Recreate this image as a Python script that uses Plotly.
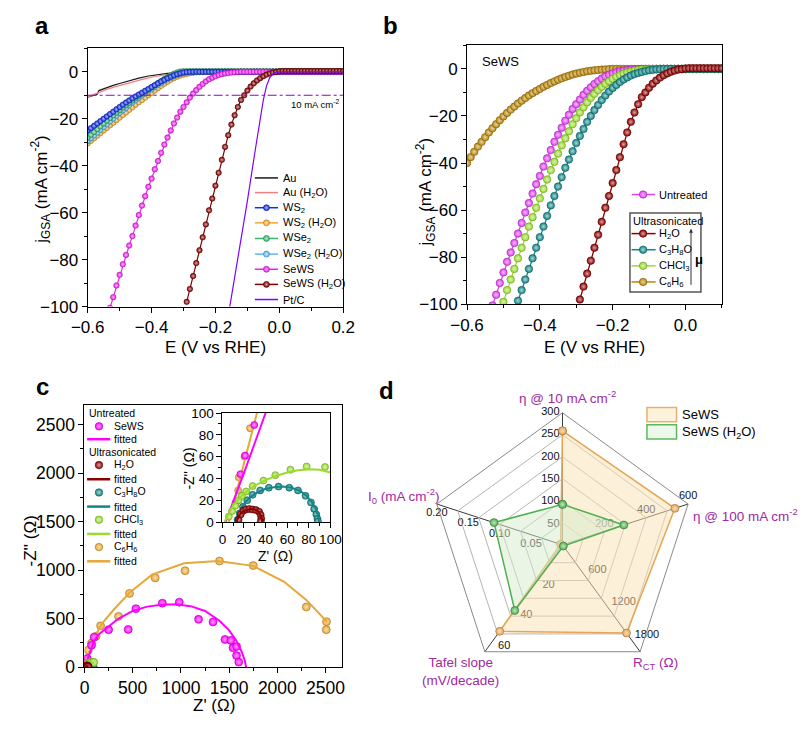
import math
import plotly.graph_objects as go

W, H = 811, 730
FONT = "Liberation Sans, Arial, Helvetica, sans-serif"

# ================= Panel a data (LSV, j_GSA vs E) =================
E_a = [-0.60, -0.59, -0.58, -0.57, -0.56, -0.55, -0.54, -0.53, -0.52, -0.51,
       -0.50, -0.49, -0.48, -0.47, -0.46, -0.45, -0.44, -0.43, -0.42, -0.41,
       -0.40, -0.39, -0.38, -0.37, -0.36, -0.35, -0.34, -0.33, -0.32, -0.31,
       -0.30, -0.29, -0.28, -0.27, -0.26, -0.25, -0.24, -0.23, -0.22, -0.21,
       -0.20, -0.19, -0.18, -0.17, -0.16, -0.15, -0.14, -0.13, -0.12, -0.11,
       -0.10, -0.09, -0.08, -0.07, -0.06, -0.05, -0.04, -0.03, -0.02, -0.01,
       0.00, 0.01, 0.02, 0.03, 0.04, 0.05, 0.06, 0.07, 0.08, 0.09,
       0.10, 0.11, 0.12, 0.13, 0.14, 0.15, 0.16, 0.17, 0.18, 0.19, 0.20]

E_Au = [-0.60, -0.58, -0.57, -0.565, -0.55, -0.52, -0.50, -0.47, -0.44, -0.41,
        -0.38, -0.35, -0.30, -0.25, -0.20, 0.00, 0.20]
j_Au = [-10.8, -10.0, -9.6, -8.0, -7.2, -5.8, -5.0, -3.8, -2.7, -1.8,
        -1.2, -0.7, -0.3, -0.1, 0.0, -0.2, -0.3]
E_AuW = [-0.60, -0.57, -0.54, -0.51, -0.48, -0.45, -0.42, -0.39, -0.36, -0.33,
         -0.30, -0.25, -0.20, 0.00, 0.20]
j_AuW = [-10.7, -9.0, -7.5, -6.2, -5.0, -3.9, -2.9, -2.0, -1.3, -0.8,
         -0.4, -0.15, 0.0, 0.0, 0.0]
E_Pt = [-0.16, -0.13, -0.10, -0.075, -0.06, -0.05, -0.04, -0.03, -0.02, -0.01, 0.00, 0.20]
j_Pt = [-104, -80, -55, -33, -20, -12, -6, -2.5, -0.8, -0.2, 0.0, 0.0]

j_WS2 = [-25.0, -24.0, -23.0, -22.0, -21.0, -20.0, -19.0, -18.0, -17.0, -16.0,
         -15.0, -14.0, -13.1, -12.2, -11.3, -10.5, -9.7, -8.9, -8.1, -7.3,
         -6.5, -5.7, -4.9, -4.1, -3.4, -2.7, -2.1, -1.5, -1.0, -0.6,
         -0.3, -0.1, 0, 0, 0, 0, 0, 0, 0, 0,
         0, 0, 0, 0, 0, 0, 0, 0, 0, 0,
         0, 0, 0, 0, 0, 0, 0, 0, 0, 0,
         0, 0, 0, 0, 0, 0, 0, 0, 0, 0,
         0, 0, 0, 0, 0, 0, 0, 0, 0, 0, 0]
j_WSe2 = [-28.0, -26.8, -25.6, -24.4, -23.2, -22.0, -20.8, -19.6, -18.5, -17.4,
          -16.3, -15.2, -14.2, -13.2, -12.2, -11.2, -10.3, -9.4, -8.5, -7.6,
          -6.7, -5.8, -4.9, -4.0, -3.1, -2.3, -1.5, -0.8, -0.3, 0.1,
          0.2, 0.2, 0.2, 0.2, 0.2, 0.2, 0.2, 0.2, 0.2, 0.2,
          0.2, 0.2, 0.2, 0.2, 0.2, 0.2, 0.2, 0.2, 0.2, 0.2,
          0.2, 0.2, 0.2, 0.2, 0.2, 0.2, 0.2, 0.2, 0.2, 0.2,
          0.2, 0.2, 0.2, 0.2, 0.2, 0.2, 0.2, 0.2, 0.2, 0.2,
          0.2, 0.2, 0.2, 0.2, 0.2, 0.2, 0.2, 0.2, 0.2, 0.2, 0.2]
j_WSe2W = [-29.5, -28.3, -27.1, -25.9, -24.7, -23.5, -22.3, -21.1, -19.9, -18.7,
           -17.5, -16.4, -15.3, -14.2, -13.1, -12.1, -11.1, -10.1, -9.2, -8.3,
           -7.4, -6.5, -5.6, -4.8, -4.0, -3.2, -2.5, -1.9, -1.4, -0.9,
           -0.6, -0.35, -0.2, -0.1, 0, 0, 0, 0, 0, 0,
           0, 0, 0, 0, 0, 0, 0, 0, 0, 0,
           0, 0, 0, 0, 0, 0, 0, 0, 0, 0,
           0, 0, 0, 0, 0, 0, 0, 0, 0, 0,
           0, 0, 0, 0, 0, 0, 0, 0, 0, 0, 0]
j_WS2W = [-30.5, -29.4, -28.3, -27.2, -26.1, -25.0, -23.9, -22.8, -21.7, -20.6,
          -19.5, -18.4, -17.3, -16.2, -15.1, -14.0, -13.0, -12.0, -11.0, -10.0,
          -9.0, -8.0, -7.0, -6.0, -5.1, -4.2, -3.4, -2.7, -2.1, -1.6,
          -1.2, -0.9, -0.6, -0.4, -0.25, -0.15, -0.1, -0.05, 0, 0,
          0, 0, 0, 0, 0, 0, 0, 0, 0, 0,
          0, 0, 0, 0, 0, 0, 0, 0, 0, 0,
          0, 0, 0, 0, 0, 0, 0, 0, 0, 0,
          0, 0, 0, 0, 0, 0, 0, 0, 0, 0, 0]
# SeWS untreated (starts at -0.53 V) and SeWS (H2O) (starts at -0.29 V)
j_SeWS = [-100.5, -96, -91, -86.5, -82, -78, -74, -70, -65.5, -61,
          -57, -53, -49, -45.5, -41.5, -38, -34.5, -31, -28, -25,
          -22, -19.5, -17, -15, -13, -11, -9.3, -7.8, -6.4, -5.2,
          -4.1, -3.2, -2.5, -1.9, -1.4, -1.0, -0.7, -0.5, -0.3, -0.2,
          -0.1, 0, 0, 0, 0, 0, 0, 0, 0, 0,
          0, 0, 0, 0, 0, 0, 0, 0, 0, 0,
          0, 0, 0, 0, 0, 0, 0, 0, 0, 0,
          0, 0, 0, 0]
j_SeWSW = [-98, -92.5, -87, -81.5, -76, -70.5, -65, -59, -54, -48.5,
           -43, -37.5, -32, -27, -22.5, -18.5, -15, -12, -10, -8,
           -6.3, -4.9, -3.7, -2.7, -1.9, -1.2, -0.7, -0.3, -0.1,
           0.2, 0.3, 0.3, 0.3, 0.3, 0.3, 0.3, 0.3, 0.3, 0.3,
           0.3, 0.3, 0.3, 0.3, 0.3, 0.3, 0.3, 0.3, 0.3, 0.3, 0.3]
j_ref = -10

# ================= Panel b data =================
E_b = [-0.60, -0.59, -0.58, -0.57, -0.56, -0.55, -0.54, -0.53, -0.52, -0.51,
       -0.50, -0.49, -0.48, -0.47, -0.46, -0.45, -0.44, -0.43, -0.42, -0.41,
       -0.40, -0.39, -0.38, -0.37, -0.36, -0.35, -0.34, -0.33, -0.32, -0.31,
       -0.30, -0.29, -0.28, -0.27, -0.26, -0.25, -0.24, -0.23, -0.22, -0.21,
       -0.20, -0.19, -0.18, -0.17, -0.16, -0.15, -0.14, -0.13, -0.12, -0.11,
       -0.10, -0.09, -0.08, -0.07, -0.06, -0.05, -0.04, -0.03, -0.02, -0.01,
       0.00, 0.01, 0.02, 0.03, 0.04, 0.05, 0.06, 0.07, 0.08, 0.09, 0.10]
j_C6H6 = [-40.0, -37.5, -35.2, -33.0, -31.0, -29.0, -27.0, -25.2, -23.5, -21.8,
          -20.2, -18.7, -17.3, -16.0, -14.7, -13.5, -12.4, -11.3, -10.3, -9.4,
          -8.5, -7.6, -6.8, -6.0, -5.3, -4.6, -4.0, -3.4, -2.9, -2.4,
          -2.0, -1.6, -1.3, -1.0, -0.8, -0.6, -0.45, -0.3, -0.2, -0.1,
          0, 0, 0, 0, 0, 0, 0, 0, 0, 0,
          0, 0, 0, 0, 0, 0, 0, 0, 0, 0,
          0, 0, 0, 0, 0, 0, 0, 0, 0, 0, 0]
j_CHCl3 = [-99, -94, -89.5, -85, -80.5, -76, -71.5, -67, -63, -59,
           -55, -51, -47, -43, -39.5, -36, -32.5, -29.5, -26.5, -23.5,
           -21, -18.5, -16.3, -14.2, -12.3, -10.6, -9.0, -7.6, -6.3, -5.2,
           -4.2, -3.3, -2.6, -2.0, -1.5, -1.1, -0.8, -0.5, -0.3, -0.2,
           -0.1, 0, 0, 0, 0, 0, 0, 0, 0, 0,
           0, 0, 0, 0, 0, 0, 0, 0, 0, 0, 0]
j_C3H8O = [-98.5, -94, -89.5, -85, -80.5, -76, -71.5, -67, -62.5, -58,
           -54, -50, -46, -42, -38.5, -35, -31.5, -28.5, -25.5, -22.5,
           -20, -17.5, -15.3, -13.2, -11.3, -9.6, -8.1, -6.8, -5.6, -4.5,
           -3.6, -2.8, -2.2, -1.7, -1.3, -0.9, -0.6, -0.4, -0.2, -0.1,
           0, 0, 0, 0, 0, 0, 0, 0, 0, 0,
           0, 0, 0, 0, 0, 0, 0]

# ================= Panel c data (Nyquist) =================
Zr_SeWS = [12.2, 16.7, 21, 29.5, 73, 100, 250, 453, 533, 807, 983, 1183, 1333, 1457, 1517, 1540, 1577, 1577, 1600]
Zi_SeWS = [17.6, 43.9, 61, 89, 227, 310, 387, 390, 604, 661, 671, 494, 467, 287, 277, 200, 214, 120, 53]
Zr_SeWS_fit = [3, 20, 40, 70, 100, 150, 250, 350, 500, 650, 800, 950, 1100, 1250, 1400, 1500, 1570, 1630, 1665, 1675]
Zi_SeWS_fit = [0, 45, 100, 190, 270, 340, 420, 500, 580, 625, 645, 650, 630, 580, 480, 380, 280, 160, 60, 0]
Zr_C6H6 = [14.6, 15.2, 20.5, 25.6, 40, 73, 120, 167, 353, 467, 733, 1043, 1400, 1750, 2300, 2510, 2507]
Zi_C6H6 = [29, 41, 60, 86, 177, 250, 320, 427, 524, 761, 921, 995, 1095, 1048, 621, 470, 387]
Zr_C6H6_fit = [6, 32, 60, 100, 177, 300, 467, 700, 1033, 1383, 1750, 2067, 2300, 2517]
Zi_C6H6_fit = [0, 100, 190, 300, 444, 590, 768, 955, 1071, 1095, 1045, 884, 694, 467]
Zr_H2O = [15, 17, 19.5, 22, 25, 28, 31, 34, 35.5, 36, 35.5]
Zi_H2O = [2, 7, 10.5, 11.5, 12, 11.5, 11, 9.5, 6.5, 3, 0.5]
Zr_H2O_fit = [13, 15, 18, 22, 26, 30, 33, 35, 36.5, 37]
Zi_H2O_fit = [0, 5, 9, 11, 12, 11.5, 10, 7, 3, 0]
Zr_C3H8O = [14, 16, 19, 23, 28, 35, 43, 52, 62, 70, 77, 82, 85, 87, 88, 88.5]
Zi_C3H8O = [2, 8, 14, 20, 25, 29, 31.5, 32.5, 31.5, 29, 24, 18, 12, 7, 3, 0.5]
Zr_C3H8O_fit = [12, 14, 17, 21, 26, 32, 40, 48, 56, 64, 72, 78, 83, 86.5, 88.5, 89.5]
Zi_C3H8O_fit = [0, 6, 12, 18, 23, 27, 30.5, 32, 32.5, 31.5, 28.5, 24, 18, 12, 6, 0]
Zr_CHCl3 = [6, 9, 12, 15, 18, 22, 28, 38, 49, 63, 78, 95]
Zi_CHCl3 = [5, 10, 15, 20, 24, 28, 33, 38, 43, 48, 51, 50.5]
Zr_CHCl3_fit = [2, 6, 10, 15, 20, 25, 30, 40, 50, 60, 70, 80, 90, 100]
Zi_CHCl3_fit = [0, 8, 15, 21, 26, 30, 33.5, 38.5, 42.5, 45.5, 47.5, 48.5, 48, 45.5]

# ================= Panel d data (radar) =================
radar_axes = ["eta10", "eta100", "RCT", "Tafel", "I0"]
radar_max = [300, 600, 2000, 70, 0.2]
radar_SeWS = [259, 537, 1650, 56.6, 0.003]
radar_SeWSW = [92, 293, 22, 43, 0.109]
radar_ticks = [[50, 100, 150, 200, 250, 300], [200, 400, 600], [600, 1200, 1800], [20, 40, 60],
               [0.05, 0.10, 0.15, 0.20]]
radar_ticktext = [["50", "100", "150", "200", "250", "300"], ["200", "400", "600"],
                  ["600", "1200", "1800"], ["20", "40", "60"], ["0.05", "0.10", "0.15", "0.20"]]

# ================= colours =================
C = dict(Au="#1a1a1a", AuW="#F08080", WS2="#1530E0", WS2W="#F0A830", WSe2="#3CB371",
         WSe2W="#5CB8F0", SeWS="#F020F0", SeWSW="#800000", Pt="#8000FF",
         untr="#E040F0", H2O="#8B0000", C3H8O="#138585", CHCl3="#9ADB2E", C6H6="#B8860B",
         cC6H6="#E8A838", cSeWS="#FF00FF", dSeWS="#E6A555", dSeWSW="#4FB050",
         purple="#A02AA0", ref="#9400D3")


def mix(c, t):
    c = c.lstrip('#')
    r, g, b = int(c[0:2], 16), int(c[2:4], 16), int(c[4:6], 16)
    return 'rgb(%d,%d,%d)' % (r + (255 - r) * t, g + (255 - g) * t, b + (255 - b) * t)


def dark(c, t):
    c = c.lstrip('#')
    r, g, b = int(c[0:2], 16), int(c[2:4], 16), int(c[4:6], 16)
    return 'rgb(%d,%d,%d)' % (r * (1 - t), g * (1 - t), b * (1 - t))


def ball(c, size):
    return dict(color=c, size=size, line=dict(color=dark(c, 0.3), width=0.6),
                gradient=dict(type='radial', color=mix(c, 0.65)))


def seg(E, start, vals):
    i = E.index(start)
    n = min(len(vals), len(E) - i)
    return E[i:i + n], vals[:n]


fig = go.Figure()

# ---------------- Panel a traces ----------------
def add_a(x, y, color, marker=False, width=1.2, size=5.5):
    fig.add_trace(go.Scatter(x=x, y=y, mode='lines+markers' if marker else 'lines',
                             line=dict(color=color, width=width),
                             marker=ball(color, size) if marker else None,
                             xaxis='x', yaxis='y', hoverinfo='skip'))

add_a(E_Au, j_Au, C['Au'])
add_a(E_AuW, j_AuW, C['AuW'])
add_a(E_a, j_WS2W, C['WS2W'], True)
add_a(E_a, j_WSe2W, C['WSe2W'], True)
add_a(E_a, j_WSe2, C['WSe2'], True)
add_a(E_a, j_WS2, C['WS2'], True)
x, y = seg(E_a, -0.53, j_SeWS)
add_a(x, y, C['SeWS'], True)
x, y = seg(E_a, -0.29, j_SeWSW)
add_a(x, y, C['SeWSW'], True)
add_a(E_Pt, j_Pt, C['Pt'])
fig.add_trace(go.Scatter(x=[E_a[0], E_a[-1]], y=[j_ref, j_ref], mode='lines',
                         line=dict(color=C['ref'], width=1, dash='dashdot'),
                         xaxis='x', yaxis='y', hoverinfo='skip'))

# ---------------- Panel b traces ----------------
def add_b(x, y, color):
    fig.add_trace(go.Scatter(x=x, y=y, mode='lines+markers', line=dict(color=color, width=1.3),
                             marker=ball(color, 7.5), xaxis='x2', yaxis='y2', hoverinfo='skip'))

add_b(E_b, j_C6H6, C['C6H6'])
x, y = seg(E_b, -0.53, j_SeWS)
add_b(x, y, C['untr'])
x, y = seg(E_b, -0.50, j_CHCl3)
add_b(x, y, C['CHCl3'])
x, y = seg(E_b, -0.46, j_C3H8O)
add_b(x, y, C['C3H8O'])
x, y = seg(E_b, -0.29, j_SeWSW)
add_b(x, y, C['H2O'])

# ---------------- Panel c traces (main + inset) ----------------
nyq = [(Zr_C6H6, Zi_C6H6, Zr_C6H6_fit, Zi_C6H6_fit, C['cC6H6']),
       (Zr_SeWS, Zi_SeWS, Zr_SeWS_fit, Zi_SeWS_fit, C['cSeWS']),
       (Zr_C3H8O, Zi_C3H8O, Zr_C3H8O_fit, Zi_C3H8O_fit, C['C3H8O']),
       (Zr_CHCl3, Zi_CHCl3, Zr_CHCl3_fit, Zi_CHCl3_fit, C['CHCl3']),
       (Zr_H2O, Zi_H2O, Zr_H2O_fit, Zi_H2O_fit, C['H2O'])]
for xa, ya, msz in (('x3', 'y3', 8), ('x4', 'y4', 7)):
    for zr, zi, fr, fi, col in nyq:
        fig.add_trace(go.Scatter(x=zr, y=zi, mode='markers', marker=ball(col, msz),
                                 xaxis=xa, yaxis=ya, hoverinfo='skip'))
        fig.add_trace(go.Scatter(x=fr, y=fi, mode='lines', line=dict(color=col, width=2),
                                 xaxis=xa, yaxis=ya, hoverinfo='skip'))

# ---------------- Panel d (radar) ----------------
for vals, col, fillc in ((radar_SeWS, C['dSeWS'], 'rgba(250,226,178,0.5)'),
                         (radar_SeWSW, C['dSeWSW'], 'rgba(214,236,206,0.5)')):
    rr = [v / m for v, m in zip(vals, radar_max)]
    fig.add_trace(go.Scatterpolar(r=rr + rr[:1], theta=radar_axes + radar_axes[:1], mode='lines+markers',
                                  fill='toself', fillcolor=fillc, line=dict(color=col, width=1.5),
                                  marker=ball(col, 8), cliponaxis=False, hoverinfo='skip'))

# radar geometry (polar domain in pixels)
RX0, RX1, RY0, RY1 = 428.7, 702.7, 413.7, 687.7
rcx, rcy, rR = (RX0 + RX1) / 2, (RY0 + RY1) / 2, (RX1 - RX0) / 2
# per-axis label offset (px) and text alignment
lab_off = [(-3, 0, 'middle left'), (0, -8.3, 'middle center'), (2.5, -8.7, 'middle right'),
           (2.2, 8, 'middle right'), (0, 8.7, 'middle center')]
lx, ly, lt, lp = [], [], [], []
for k in range(5):
    ang = math.radians(90 - 72 * k)
    for v, s in zip(radar_ticks[k], radar_ticktext[k]):
        r = v / radar_max[k] * rR
        lx.append(rcx + r * math.cos(ang) + lab_off[k][0])
        ly.append(rcy - r * math.sin(ang) + lab_off[k][1] + 1.2)
        lt.append(s)
        lp.append(lab_off[k][2])
# drawn on the cartesian canvas (below the polar layer so the fills tint it)
fig.add_trace(go.Scatter(x=lx, y=ly, text=lt, mode='text', textposition=lp,
                         textfont=dict(size=11, color='#111', family=FONT),
                         xaxis='x5', yaxis='y5', cliponaxis=False, hoverinfo='skip'))

# ---------------- canvas helpers (pixel coordinates) ----------------
def cl(x0, x1, y, color, width=1.5):
    fig.add_trace(go.Scatter(x=[x0, x1], y=[y, y], mode='lines', line=dict(color=color, width=width),
                             xaxis='x5', yaxis='y5', hoverinfo='skip'))


def cm(x, y, color, size):
    fig.add_trace(go.Scatter(x=[x], y=[y], mode='markers', marker=ball(color, size),
                             xaxis='x5', yaxis='y5', hoverinfo='skip'))


ann = []


def txt(x, y, s, size, color='black', xa='left', ya='middle', angle=0, bold=False):
    if bold:
        s = '<b>' + s + '</b>'
    ann.append(dict(x=x, y=y, xref='x5', yref='y5', text=s, showarrow=False, textangle=angle,
                    font=dict(size=size, color=color, family=FONT), xanchor=xa, yanchor=ya))

# panel a legend
leg_a = [("Au", C['Au'], False), ("Au (H<sub>2</sub>O)", C['AuW'], False),
         ("WS<sub>2</sub>", C['WS2'], True), ("WS<sub>2</sub> (H<sub>2</sub>O)", C['WS2W'], True),
         ("WSe<sub>2</sub>", C['WSe2'], True), ("WSe<sub>2</sub> (H<sub>2</sub>O)", C['WSe2W'], True),
         ("SeWS", C['SeWS'], True), ("SeWS (H<sub>2</sub>O)", C['SeWSW'], True), ("Pt/C", C['Pt'], False)]
rows_a = [175, 190, 205.5, 221, 237, 253, 268.5, 284, 299.5]
for (lab, col, mk), yy in zip(leg_a, rows_a):
    cl(246.7, 270.7, yy, col, 1.5)
    if mk:
        cm(258.7, yy, col, 6)
    txt(274, yy, lab, 11)

# panel b legend
cl(637.7, 661.7, 192, C['untr'], 1.5); cm(649.3, 192, C['untr'], 7.5); txt(664, 192, "Untreated", 11)
txt(637, 219.5, "Ultrasonicated", 11)
leg_b = [("H<sub>2</sub>O", C['H2O']), ("C<sub>3</sub>H<sub>8</sub>O", C['C3H8O']),
         ("CHCl<sub>3</sub>", C['CHCl3']), ("C<sub>6</sub>H<sub>6</sub>", C['C6H6'])]
for (lab, col), yy in zip(leg_b, [232, 248.5, 265, 281.5]):
    cl(637.3, 662.3, yy, col, 1.5); cm(649.3, yy, col, 7.5); txt(664, yy, lab, 11)

# panel c legend
txt(72.5, 416, "Untreated", 10.5)
cm(85, 429.3, C['cSeWS'], 7.5); txt(98.5, 429.3, "SeWS", 10.5)
cl(72.7, 96.7, 442.5, C['cSeWS'], 2.5); txt(98.5, 442.5, "fitted", 10.5)
txt(72.5, 455.7, "Ultrasonicated", 10.5)
leg_c = [("H<sub>2</sub>O", C['H2O']), ("C<sub>3</sub>H<sub>8</sub>O", C['C3H8O']),
         ("CHCl<sub>3</sub>", C['CHCl3']), ("C<sub>6</sub>H<sub>6</sub>", C['cC6H6'])]
for (lab, col), (y1, y2) in zip(leg_c, [(469, 483.5), (497, 511.5), (525, 539.5), (553, 567.5)]):
    cm(85, y1, col, 7.5); txt(98.5, y1, lab, 10.5)
    cl(72.7, 96.7, y2, col, 2.5); txt(98.5, y2, "fitted", 10.5)

# panel d legend
shapes = []
for (lab, line_c, fill_c), yy in zip((("SeWS", "#E8B070", "#FDF3DC"),
                                      ("SeWS (H<sub>2</sub>O)", "#5CB85C", "#EEF7EC")), (410, 427.7)):
    shapes.append(dict(type='rect', xref='x5', yref='y5', x0=653.3, x1=684, y0=yy, y1=yy + 14.7,
                       line=dict(color=line_c, width=1.5), fillcolor=fill_c))
    txt(687.5, yy + 7.5, lab, 13)

# box for ultrasonicated legend
shapes.append(dict(type='rect', xref='x5', yref='y5', x0=635.7, x1=709.3, y0=211, y1=291.7,
                   line=dict(color='#555', width=1.5), fillcolor='rgba(0,0,0,0)'))

# arrow + mu
ann.append(dict(x=699, y=227, ax=699, ay=286, xref='x5', yref='y5', axref='x5', ayref='y5',
                showarrow=True, arrowhead=2, arrowsize=0.8, arrowwidth=1, arrowcolor='#333', text=''))
txt(701.5, 258.5, "μ", 13, bold=True)

# text labels / titles
txt(26, 18.5, "a", 24, xa='center', bold=True)
txt(387, 18.5, "b", 24, xa='center', bold=True)
txt(26, 388.5, "c", 24, xa='center', bold=True)
txt(383, 393, "d", 24, xa='center', bold=True)

jt = "j<sub>GSA</sub> (mA cm<sup>-2</sup>)"
txt(25, 187, jt, 17, xa='center', angle=-90)
txt(424, 189, jt, 17, xa='center', angle=-90)
txt(205.7, 348.5, "E (V vs RHE)", 17, xa='center')
txt(598.7, 348.5, "E (V vs RHE)", 17, xa='center')
txt(336, 99, "10 mA cm<sup>-2</sup>", 9.5, xa='right')
txt(480, 55.5, "SeWS", 13)

txt(15, 546.7, "-Z'' (Ω)", 17, xa='center', angle=-90)
txt(204, 715, "Z' (Ω)", 17, xa='center')
txt(178, 473, "-Z'' (Ω)", 14, xa='center', angle=-90)
txt(268.3, 561.7, "Z' (Ω)", 14, xa='center')

# radar axis titles
P = C['purple']
txt(570.8, 399.5, "η @ 10 mA cm<sup>-2</sup>", 13.5, P, xa='center')
txt(698.5, 520, "η @ 100 mA cm<sup>-2</sup>", 13.5, P)
txt(661.7, 672, "R<sub>CT</sub> (Ω)", 13.5, P, xa='center')
txt(460, 680, "Tafel slope<br>(mV/decade)", 13.5, P, xa='center')
txt(440, 500.5, "I<sub>0</sub> (mA cm<sup>-2</sup>)", 13.5, P, xa='right')


# ---------------- axes ----------------
def axstyle(rng, dtick, minor, dom, anchor, size=17, fmt=None, tick0=0):
    d = dict(range=rng, domain=dom, anchor=anchor, showline=True, linecolor='black', linewidth=1,
             mirror=True, ticks='outside', ticklen=5, tickwidth=1, tickcolor='black',
             tick0=tick0, dtick=dtick, showgrid=False, zeroline=False,
             tickfont=dict(size=size, family=FONT, color='black'),
             minor=dict(ticks='outside', ticklen=3, tickwidth=1, tickcolor='black', dtick=minor, tick0=tick0))
    if fmt:
        d['tickformat'] = fmt
    return d


def dx(a, b):
    return [a / W, b / W]


def dy(top, bottom):
    return [1 - bottom / H, 1 - top / H]


layout = dict(
    width=W, height=H, margin=dict(l=0, r=0, t=0, b=0), showlegend=False,
    paper_bgcolor='white', plot_bgcolor='rgba(0,0,0,0)', font=dict(family=FONT, color='black'),
    xaxis=axstyle([-0.6, 0.2], 0.2, 0.1, dx(73.3, 338.3), 'y', fmt='.1f', tick0=-0.6),
    yaxis=axstyle([-100, 10], 20, 10, dy(42.3, 306.7), 'x'),
    xaxis2=axstyle([-0.6, 0.1], 0.2, 0.1, dx(466.7, 731), 'y2', fmt='.1f', tick0=-0.6),
    yaxis2=axstyle([-100, 10], 20, 10, dy(39.3, 304.3), 'x2'),
    xaxis3=axstyle([0, 2670], 500, 250, dx(70, 337), 'y3', size=17.5),
    yaxis3=axstyle([0, 2698], 500, 250, dy(408, 676), 'x3', size=17.5),
    xaxis4=axstyle([0, 100], 20, 10, dx(213, 325), 'y4', size=13.5),
    yaxis4=axstyle([0, 100], 20, 10, dy(415.7, 527.3), 'x4', size=13.5),
    xaxis5=dict(domain=[0, 1], range=[0, W], visible=False, anchor='y5', fixedrange=True),
    yaxis5=dict(domain=[0, 1], range=[H, 0], visible=False, anchor='x5', fixedrange=True),
    polar=dict(domain=dict(x=dx(RX0, RX1), y=dy(RY0, RY1)), bgcolor='rgba(0,0,0,0)',
               gridshape='linear',
               radialaxis=dict(range=[0, 1], tickvals=[1 / 6, 2 / 6, 3 / 6, 4 / 6, 5 / 6, 1],
                               showticklabels=False, ticks='', showline=False,
                               gridcolor='#B5B5B5', gridwidth=1),
               angularaxis=dict(type='category', categoryorder='array', categoryarray=radar_axes,
                                direction='clockwise', rotation=90, showticklabels=False, ticks='',
                                showline=True, linecolor='#8a8a8a', linewidth=1,
                                gridcolor='#3a3a3a', gridwidth=1)),
    annotations=ann, shapes=shapes,
)
fig.update_layout(**layout)
fig.write_html("out.html")
